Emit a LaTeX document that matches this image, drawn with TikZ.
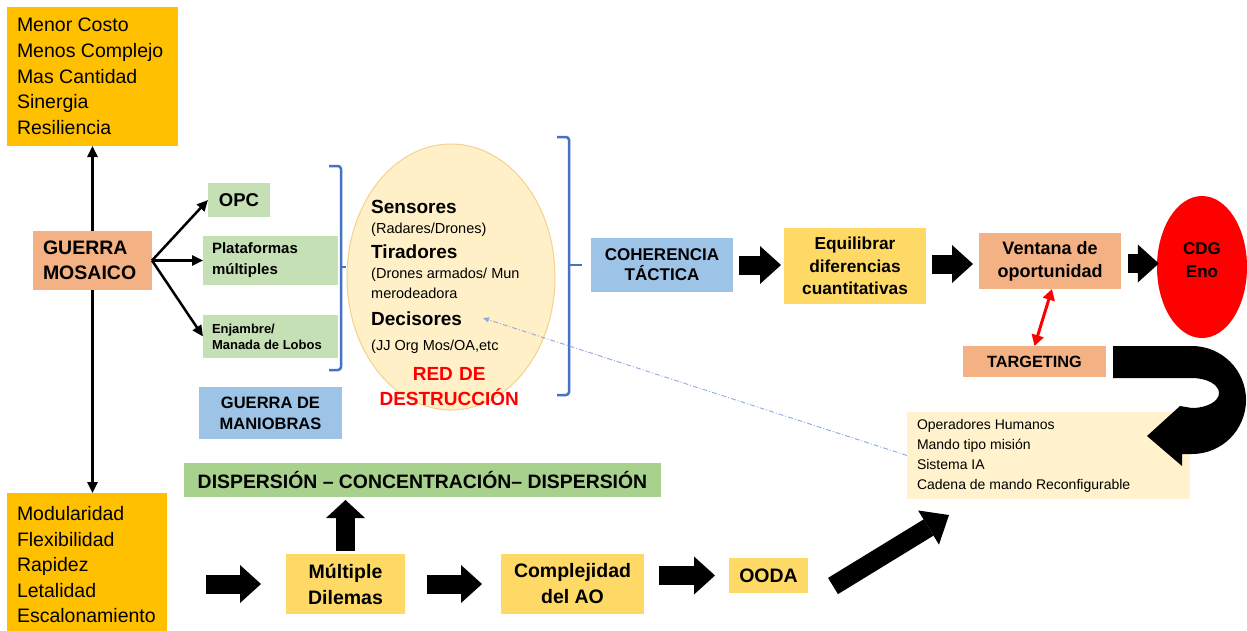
\documentclass[tikz,border=0pt]{standalone}
\usepackage{fontspec}
\setmainfont{Liberation Sans}
\usetikzlibrary{arrows.meta,shapes.geometric,calc}
\definecolor{cOrange}{HTML}{FFC000}
\definecolor{cSalmon}{HTML}{F4B183}
\definecolor{cGreen}{HTML}{C5E0B4}
\definecolor{cGreenD}{HTML}{A9D18E}
\definecolor{cBlue}{HTML}{9DC3E6}
\definecolor{cYellow}{HTML}{FFD966}
\definecolor{cCream}{HTML}{FFF2CC}
\definecolor{cBrace}{HTML}{4472C4}
\definecolor{cDash}{HTML}{8FAADC}
\definecolor{cEllFill}{HTML}{FFF0C8}
\definecolor{cEllLine}{HTML}{F6D08E}
\definecolor{cRed}{HTML}{FF0000}
\newcommand{\fsz}[2]{\fontsize{#1}{#2}\selectfont\spaceskip=0pt\xspaceskip=0pt\relax}
\begin{document}
\begin{tikzpicture}[x=1pt,y=-1pt,
  box/.style={rectangle, inner sep=0pt, outer sep=0pt},
  arr/.style={line width=2.5pt, -{Triangle[length=11pt,width=10pt]}},
  blk/.style={line width=19pt, -{Triangle[length=21pt,width=38pt,line width=0pt]}},
  blkup/.style={line width=19pt, -{Triangle[length=18pt,width=39pt,line width=0pt]}},
  blkdiag/.style={line width=19pt, -{Triangle[length=24pt,width=40pt,line width=0pt]}},
  brace/.style={draw=cBrace, line width=2.5pt},
]
\fill[white] (0,0) rectangle (1247,630);
\useasboundingbox (0,0) rectangle (1247,630);

% left column
\node[box, fill=cOrange, minimum width=171pt, minimum height=139pt, text width=151pt, align=left, font=\fsz{19.5}{25.75}] (topbox) at (92.5,76.5)
  {\fsz{19.5}{25.75}Menor Costo\\Menos Complejo\\Mas Cantidad\\Sinergia\\Resiliencia};
\node[box, fill=cSalmon, minimum width=119pt, minimum height=59pt, text width=99pt, align=left, font=\bfseries\fsz{19.5}{25}] (gm) at (92.5,260.5)
  {GUERRA\\MOSAICO};
\node[box, fill=cOrange, minimum width=160pt, minimum height=144pt, text width=140pt, align=left, font=\fsz{19.5}{25.5}] (botbox) at (87,565)
  {Modularidad\\Flexibilidad\\Rapidez\\Letalidad\\Escalonamiento};

\draw[arr] (gm) -- (topbox);
\draw[arr] (gm.south) -- (gm.south |- botbox.north);

% green boxes
\node[box, fill=cGreen, minimum width=62pt, minimum height=34pt, font=\bfseries\fsz{18.5}{22}] (opc) at (239,200) {OPC};
\node[box, fill=cGreen, minimum width=135pt, minimum height=49pt, text width=117pt, align=left, font=\bfseries\fsz{15}{21}] (plat) at (270.5,260.5)
  {Plataformas\\múltiples};
\node[box, fill=cGreen, minimum width=135pt, minimum height=43pt, text width=117pt, align=left, font=\bfseries\fsz{13}{16}] (enj) at (270.5,336.5)
  {\fsz{13}{16}Enjambre/\\Manada de Lobos};
\draw[arr] (gm.east) -- (opc.west);
\draw[arr] (gm.east) -- (plat.west);
\draw[arr] (gm.east) -- (enj.west);

\node[box, fill=cBlue, minimum width=143pt, minimum height=52pt, align=center, font=\bfseries\fsz{16.5}{21}] (gdm) at (270.5,413)
  {GUERRA DE\\MANIOBRAS};

% brackets
\draw[brace, rounded corners=3pt] (329,166) -- (341,166) -- (341,370) -- (329,370);
\draw[brace] (341,267) -- (346,267);
\draw[brace, rounded corners=3pt] (557,137) -- (569,137) -- (569,395) -- (557,395);
\draw[brace] (569,265) -- (582,265);

% kill chain ellipse
\node[ellipse, fill=cEllFill, draw=cEllLine, line width=1pt, minimum width=208pt, minimum height=266pt, inner sep=0pt] (red) at (451,277) {};
\node[anchor=base west, text width=156pt, align=left, inner sep=0pt, font=\fsz{19}{20}] (redtxt) at (371,213)
  {{\bfseries Sensores}\\
   {\fsz{14.5}{20}(Radares/Drones)}\\[5pt]
   {\bfseries Tiradores}\\
   {\fsz{14.5}{20}(Drones armados/ Mun}\\
   {\fsz{14.5}{20}merodeadora}\\[7pt]
   {\bfseries Decisores}\\[5pt]
   {\fsz{14.5}{20}(JJ Org Mos/OA,etc}\\[10pt]
   {\color{cRed}\bfseries\hspace*{\fill}RED DE\hspace*{\fill}}\\[5pt]
   {\color{cRed}\bfseries\hspace*{\fill}DESTRUCCIÓN\hspace*{\fill}}};

% top flow
\node[box, fill=cBlue, minimum width=142pt, minimum height=54pt, align=center, font=\bfseries\fsz{17}{20}] (coh) at (662,265)
  {COHERENCIA\\TÁCTICA};
\node[box, fill=cYellow, minimum width=142pt, minimum height=76pt, align=center, font=\bfseries\fsz{17.3}{22.5}] (eq) at (855,266)
  {Equilibrar\\diferencias\\cuantitativas};
\node[box, fill=cSalmon, minimum width=142pt, minimum height=56pt, align=center, font=\bfseries\fsz{18}{23}] (ven) at (1050,261)
  {Ventana de\\oportunidad};
\node[ellipse, fill=cRed, minimum width=90pt, minimum height=142pt, inner sep=0pt,
  label={[font=\bfseries\fsz{17}{23}, align=center, yshift=6.6pt]center:CDG\\Eno}] (cdg) at (1202,267) {};
\node[box, fill=cSalmon, minimum width=143pt, minimum height=31pt, font=\bfseries\fsz{16.3}{20}] (tgt) at (1034.5,361.5) {TARGETING};

\draw[blk, shorten <=6pt, shorten >=3pt] (coh.east) -- (coh.east -| eq.west);
\draw[blk, shorten <=6pt, shorten >=6pt] ([yshift=2pt]eq.east) -- ([yshift=2pt]eq.east -| ven.west);
\draw[blk, shorten <=7pt, shorten >=-2pt] ([yshift=-2.5pt]ven.east) -- ([yshift=-2.5pt]ven.east -| cdg.west);
\draw[line width=3pt, cRed, {Triangle[length=11pt,width=12pt]}-{Triangle[length=11pt,width=12pt]}] ([xshift=2pt]ven.south) -- (tgt.north);

% operators box and U-turn arrow
\node[box, fill=cCream, minimum width=283pt, minimum height=87pt, text width=263pt, align=left, font=\fsz{14}{20}] (oper) at (1048.5,455.5)
  {\fsz{14}{20}Operadores Humanos\\Mando tipo misión\\Sistema IA\\Cadena de mando Reconfigurable};
\fill[black] (1113,346) -- (1192,346) arc[start angle=90, end angle=-90, x radius=54pt, y radius=54pt]
  -- (1182,454) -- (1182,466) -- (1147,436) -- (1180,406) -- (1192,408)
  arc[start angle=-90, end angle=90, x radius=27pt, y radius=15pt] -- (1113,378) -- cycle;

\coordinate (dtip) at (483,318);
\draw[cDash, line width=0.9pt, dash pattern=on 5pt off 2pt on 1pt off 2pt, -{Triangle[length=6pt,width=5pt]}] (oper.west) -- (dtip);

% bottom flow
\node[box, fill=cGreenD, minimum width=477pt, minimum height=34pt, font=\bfseries\fsz{19.4}{22}] (disp) at (422.5,480)
  {DISPERSIÓN – CONCENTRACIÓN– DISPERSIÓN};
\node[box, fill=cYellow, minimum width=119pt, minimum height=60pt, align=center, font=\bfseries\fsz{19.5}{26}] (mult) at (345.5,584)
  {Múltiple\\Dilemas};
\node[box, fill=cYellow, minimum width=143pt, minimum height=60pt, align=center, font=\bfseries\fsz{19.5}{26}] (comp) at (572.5,584)
  {Complejidad\\del AO};
\node[box, fill=cYellow, minimum width=79pt, minimum height=35pt, font=\bfseries\fsz{19.5}{22}] (ooda) at (768.5,575.5) {OODA};

\draw[blk, shorten <=39pt, shorten >=25pt] (botbox.east |- mult.west) -- (mult.west);
\draw[blkup, shorten <=3pt, shorten >=3pt] (mult.north) -- (mult.north |- disp.south);
\draw[blk, shorten <=22pt, shorten >=19pt] (mult.east) -- (comp.west);
\draw[blk, shorten <=15pt, shorten >=14pt] (comp.east |- ooda.west) -- (ooda.west);
\coordinate (dA) at (833,586);
\coordinate (dB) at (949,515);
\draw[blkdiag] (dA) -- (dB);
\end{tikzpicture}
\end{document}
